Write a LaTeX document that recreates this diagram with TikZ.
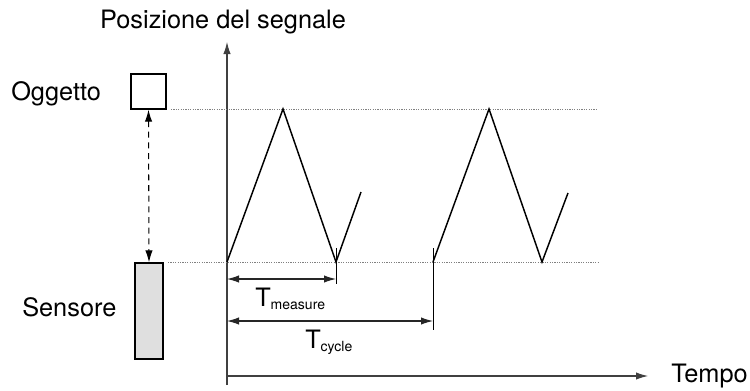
\documentclass[tikz,border=0pt]{standalone}
\usepackage{fontspec}
\setmainfont{TeX Gyre Heros}
\usetikzlibrary{arrows.meta}

\tikzset{
	lbl/.style={inner sep=0pt, font=\fontsize{19}{22}\selectfont},
	tip/.tip={Latex[length=9pt,width=5.5pt]},
	signal/.style={line width=1.1pt, line join=miter},
	guide/.style={gray, line width=0.6pt, dash pattern=on 0.9pt off 0.9pt},
	axis/.style={black!75, line width=0.8pt, -tip},
	dim/.style={black!85, line width=0.8pt, tip-tip}
}
\newcommand{\subtxt}[1]{\raisebox{-2.7pt}{\fontsize{10.5}{12}\selectfont #1}}

\begin{document}
\begin{tikzpicture}[x=0.75pt, y=-0.75pt]
			\useasboundingbox (0,0) rectangle (750,390);
			\coordinate (ybot) at (227,385);
			\coordinate (ytop) at (227,42);
			\coordinate (xl) at (227,376);
			\coordinate (xr) at (648,376);
			\draw[axis] (ybot) -- (ytop);
			\draw[axis] (xl) -- (xr);
			\node[lbl, anchor=base] (pos) at (223,28) {Posizione del segnale};
			\node[lbl, anchor=base west] (tempo) at (671,382) {Tempo};
			\node[lbl, anchor=base west] (ogg) at (11,100) {Oggetto};
			\node[lbl, anchor=base west] (sens) at (22,316) {Sensore};
			\node[draw, line width=0.9pt, inner sep=0pt, minimum width=26.25pt, minimum height=26.25pt] (obj) at (148.5,91.5) {};
			\node[draw, fill=gray!25, line width=0.9pt, inner sep=0pt, minimum width=21pt, minimum height=72pt] (box) at (149,311) {};
			\draw[line width=0.8pt, dash pattern=on 4.5pt off 3.5pt, tip-tip] (obj.south) -- (box.north);
			\draw[guide] (171,109) -- (598,109);
			\draw[guide] (168,262) -- (598,262);
			\draw[signal] (227,262) -- (283,109) -- (336,262) -- (361,192);
			\draw[signal] (433,262) -- (489,109) -- (542,262) -- (568,193);
			\draw[line width=0.6pt] (336,248) -- (336,284);
			\draw[line width=0.6pt] (433,248) -- (433,330);
			\coordinate (m0) at (227,279);
			\coordinate (m1) at (336,279);
			\coordinate (c0) at (227,321);
			\coordinate (c1) at (433,321);
			\draw[dim] (m0) -- (m1);
			\draw[dim] (c0) -- (c1);
			\node[lbl, anchor=base west] (tmeas) at (255,306) {T\subtxt{measure}};
			\node[lbl, anchor=base west] (tcyc) at (305,348) {T\subtxt{cycle}};
	\end{tikzpicture}
\end{document}
